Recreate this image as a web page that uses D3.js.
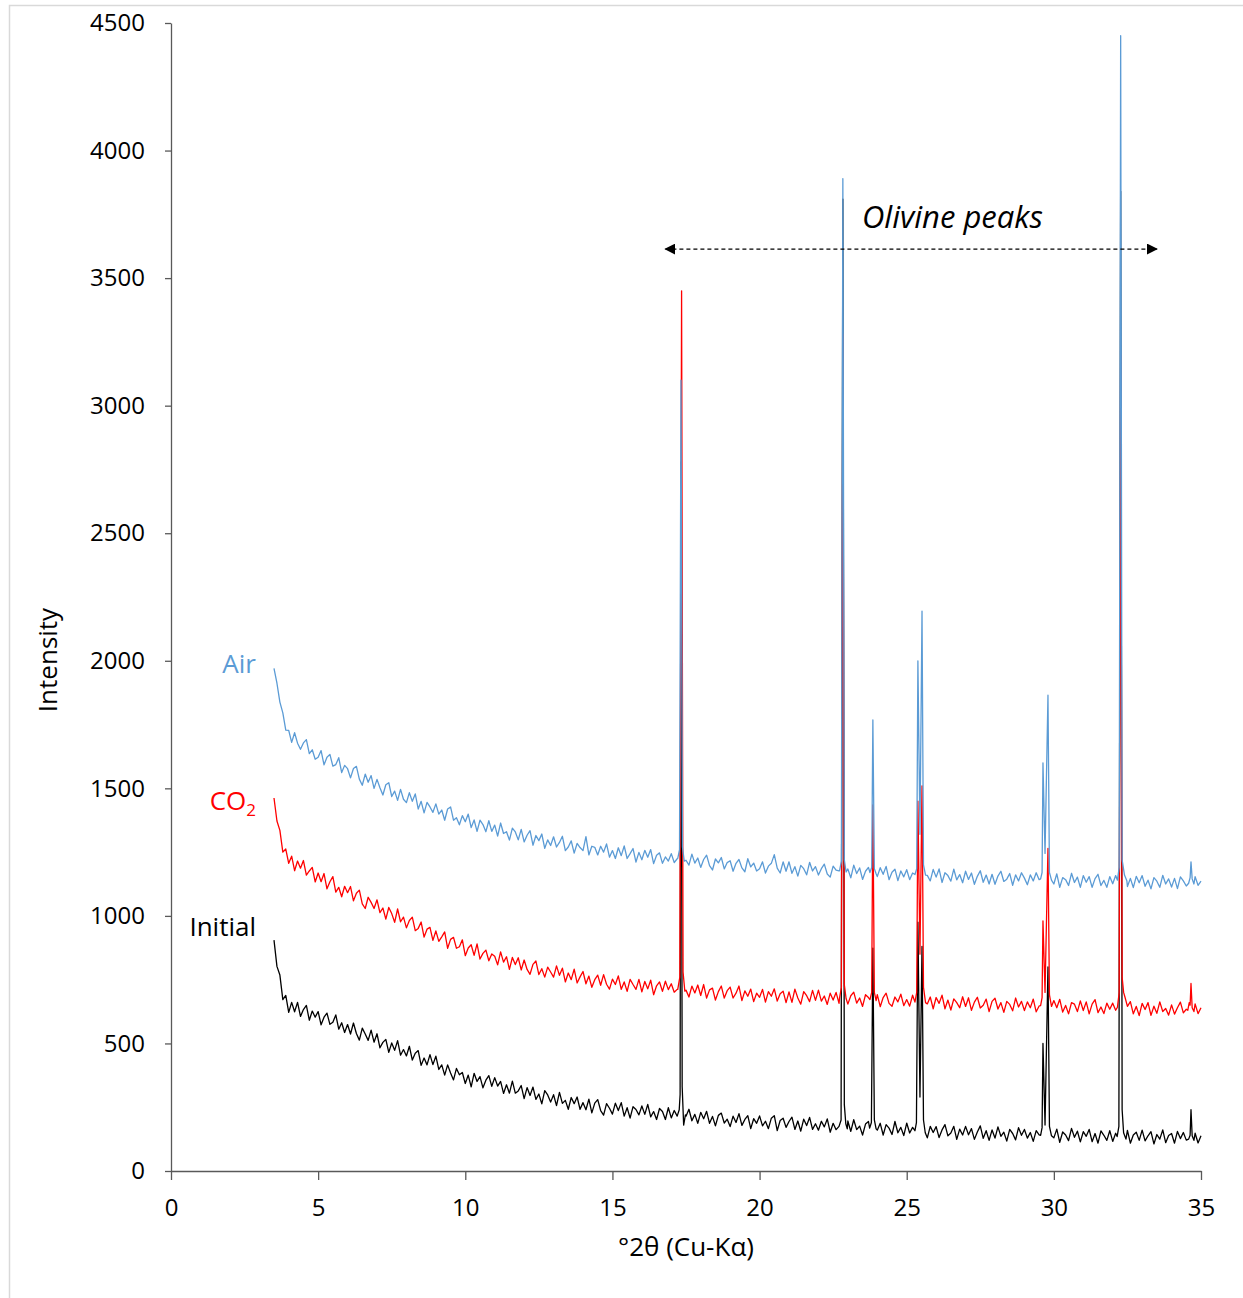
<!DOCTYPE html>
<html>
<head>
<meta charset="utf-8">
<script src="https://cdn.jsdelivr.net/npm/d3@7"></script>
<style>
	body { margin: 0; background: #fff; }
	svg text { font-family: "Open Sans", "Liberation Sans", sans-serif; }
	.axis path, .axis line { stroke: #595959; stroke-width: 1.3; }
	.axis text { font-size: 24px; fill: #000; }
</style>
</head>
<body>
<div id="chart"></div>
<script>
// baseline counts sampled every 0.1 deg from 3.5 to 35.0
var startAngle = 3.5, angleStep = 0.1;

var airBase = [
	1970, 1912, 1838, 1796, 1728,
	1727, 1680, 1718, 1677, 1653, 1678, 1691, 1636, 1651, 1614,
	1622, 1648, 1592, 1622, 1633, 1587, 1593, 1620, 1562, 1590,
	1577, 1541, 1578, 1586, 1536, 1512, 1556, 1524, 1550, 1500,
	1535, 1502, 1474, 1514, 1522, 1468, 1489, 1453, 1496, 1457,
	1444, 1483, 1449, 1478, 1419, 1449, 1404, 1445, 1427, 1406,
	1439, 1399, 1415, 1375, 1419, 1427, 1375, 1385, 1357, 1393,
	1369, 1399, 1346, 1376, 1331, 1375, 1358, 1330, 1373, 1331,
	1356, 1313, 1364, 1323, 1330, 1297, 1344, 1329, 1298, 1339,
	1290, 1316, 1334, 1277, 1315, 1295, 1321, 1265, 1298, 1276,
	1310, 1270, 1288, 1312, 1256, 1270, 1294, 1246, 1284, 1268,
	1256, 1311, 1239, 1273, 1269, 1239, 1273, 1250, 1282, 1230,
	1256, 1225, 1267, 1236, 1274, 1225, 1244, 1264, 1211, 1249,
	1220, 1257, 1230, 1260, 1205, 1238, 1247, 1206, 1231, 1215,
	1244, 1209, 1224, 1221, 1220, 1218, 1199, 1242, 1207, 1227,
	1190, 1221, 1238, 1197, 1180, 1223, 1208, 1229, 1184, 1209,
	1216, 1175, 1206, 1221, 1188, 1173, 1224, 1192, 1207, 1176,
	1185, 1212, 1168, 1195, 1206, 1240, 1187, 1168, 1212, 1175,
	1212, 1167, 1193, 1156, 1198, 1185, 1161, 1210, 1176, 1193,
	1160, 1185, 1203, 1164, 1152, 1195, 1179, 1176, 1176, 1175,
	1184, 1149, 1199, 1166, 1188, 1143, 1175, 1190, 1170, 1169,
	1154, 1189, 1163, 1194, 1142, 1171, 1183, 1138, 1176, 1153,
	1181, 1142, 1168, 1161, 1161, 1160, 1160, 1159, 1137, 1182,
	1152, 1184, 1131, 1169, 1158, 1136, 1183, 1141, 1162, 1130,
	1175, 1143, 1168, 1124, 1155, 1177, 1132, 1160, 1125, 1163,
	1124, 1156, 1175, 1135, 1144, 1166, 1120, 1161, 1137, 1169,
	1148, 1122, 1161, 1137, 1169, 1142, 1142, 1142, 1141, 1141,
	1125, 1165, 1112, 1150, 1142, 1119, 1167, 1131, 1152, 1112,
	1158, 1132, 1154, 1112, 1146, 1163, 1119, 1139, 1112, 1154,
	1126, 1158, 1136, 1136, 1135, 1115, 1147, 1111, 1155, 1130,
	1158, 1116, 1140, 1106, 1150, 1136, 1112, 1159, 1125, 1145,
	1113, 1147, 1107, 1153, 1137, 1117, 1133, 1133, 1154, 1120,
	1136
];

var co2Base = [
	1462, 1372, 1335, 1250, 1262,
	1206, 1234, 1177, 1215, 1187, 1217, 1160, 1176, 1190, 1133,
	1168, 1134, 1166, 1106, 1134, 1154, 1093, 1112, 1075, 1116,
	1091, 1115, 1059, 1089, 1101, 1047, 1029, 1073, 1053, 1029,
	1063, 1013, 1031, 987, 1033, 1009, 975, 1027, 977, 995,
	953, 982, 995, 942, 951, 976, 917, 948, 955, 904,
	941, 900, 918, 937, 873, 908, 916, 873, 879, 906,
	844, 874, 887, 845, 890, 831, 853, 866, 824, 851,
	842, 808, 859, 819, 840, 790, 837, 809, 836, 788,
	827, 790, 771, 810, 823, 770, 793, 760, 799, 780,
	760, 804, 767, 795, 741, 776, 750, 791, 737, 761,
	782, 734, 764, 720, 750, 768, 728, 770, 732, 713,
	752, 731, 765, 712, 741, 704, 751, 731, 712, 751,
	702, 743, 714, 748, 691, 726, 741, 704, 744, 711,
	734, 701, 712, 711, 710, 709, 682, 725, 698, 729,
	688, 731, 678, 710, 717, 670, 703, 725, 678, 707,
	721, 678, 697, 725, 668, 706, 685, 713, 664, 697,
	681, 712, 662, 703, 685, 714, 666, 695, 705, 660,
	702, 661, 713, 678, 654, 703, 687, 664, 708, 669,
	709, 666, 686, 653, 697, 670, 700, 657, 677, 676,
	654, 687, 701, 658, 678, 645, 691, 680, 672, 671,
	691, 644, 680, 697, 657, 646, 682, 663, 693, 648,
	672, 646, 689, 665, 664, 664, 663, 655, 682, 636,
	680, 657, 689, 636, 670, 631, 675, 660, 640, 683,
	645, 679, 630, 662, 681, 639, 650, 674, 625, 665,
	677, 635, 660, 622, 665, 653, 628, 678, 643, 665,
	629, 663, 640, 674, 624, 647, 647, 647, 646, 646,
	668, 640, 673, 623, 649, 616, 660, 654, 625, 667,
	629, 663, 616, 654, 672, 621, 643, 617, 658, 634,
	658, 630, 639, 639, 639, 638, 664, 616, 645, 609,
	657, 633, 660, 610, 646, 618, 663, 625, 637, 611,
	651, 615, 640, 662, 620, 634, 634, 633, 655, 617,
	640
];

var initialBase = [
	905, 802, 768, 672, 688,
	622, 661, 624, 661, 606, 633, 649, 591, 627, 603,
	625, 573, 603, 619, 575, 583, 612, 556, 581, 543,
	574, 537, 580, 539, 513, 560, 537, 512, 552, 505,
	538, 483, 504, 516, 465, 502, 473, 511, 454, 476,
	451, 489, 435, 462, 472, 414, 443, 416, 456, 417,
	450, 398, 416, 376, 416, 384, 357, 402, 377, 386,
	343, 376, 330, 383, 351, 370, 326, 356, 374, 332,
	366, 333, 351, 304, 338, 305, 352, 305, 314, 335,
	284, 327, 296, 329, 281, 302, 263, 315, 298, 270,
	299, 256, 308, 265, 277, 242, 288, 264, 290, 242,
	268, 240, 282, 228, 266, 280, 237, 219, 264, 246,
	223, 266, 237, 268, 215, 248, 207, 252, 241, 220,
	255, 222, 261, 212, 233, 202, 245, 233, 202, 248,
	208, 237, 218, 217, 216, 215, 242, 197, 222, 187,
	230, 205, 234, 187, 214, 177, 218, 227, 188, 203,
	174, 215, 190, 225, 179, 202, 217, 166, 205, 187,
	216, 177, 195, 166, 207, 217, 158, 198, 207, 171,
	194, 211, 163, 196, 156, 203, 178, 210, 163, 185,
	160, 195, 173, 204, 152, 187, 162, 176, 175, 175,
	196, 155, 201, 162, 176, 141, 184, 194, 169, 169,
	160, 187, 141, 182, 168, 143, 194, 150, 171, 139,
	188, 149, 171, 160, 160, 159, 158, 130, 175, 151,
	174, 131, 161, 182, 138, 149, 175, 124, 164, 141,
	175, 142, 166, 124, 153, 177, 128, 158, 120, 161,
	129, 173, 136, 152, 117, 163, 147, 122, 170, 140,
	163, 129, 151, 116, 158, 142, 141, 141, 141, 140,
	130, 164, 112, 153, 141, 119, 167, 132, 156, 114,
	154, 136, 163, 115, 147, 109, 157, 140, 120, 158,
	116, 148, 136, 135, 135, 159, 109, 141, 152, 120,
	160, 118, 138, 154, 106, 143, 125, 161, 111, 139,
	147, 109, 155, 127, 151, 121, 132, 132, 148, 110,
	138
];

// reflections: [2theta, counts]
var airPeaks = [
	[[17.22, 1225], [17.28, 1260], [17.33, 3100], [17.38, 1270], [17.44, 1215]],
	[[22.72, 1178], [22.78, 1215], [22.83, 3890], [22.88, 1220], [22.94, 1172]],
	[[23.75, 1170], [23.81, 1190], [23.85, 1768], [23.90, 1185], [23.96, 1165]],
	[[25.28, 1162], [25.34, 1185], [25.38, 2000], [25.45, 1320], [25.52, 2195], [25.57, 1200], [25.64, 1160]],
	[[29.55, 1145], [29.60, 1170], [29.63, 1600], [29.70, 1245], [29.80, 1865], [29.85, 1170], [29.92, 1140]],
	[[32.16, 1140], [32.22, 1190], [32.27, 4450], [32.32, 1220], [32.40, 1160], [32.48, 1138]],
	[[34.58, 1128], [34.63, 1150], [34.66, 1212], [34.70, 1145], [34.76, 1125]]
];

var co2Peaks = [
	[[17.22, 712], [17.29, 760], [17.35, 3450], [17.40, 780], [17.46, 705]],
	[[22.72, 680], [22.78, 720], [22.83, 3280], [22.88, 730], [22.94, 676]],
	[[23.75, 672], [23.81, 700], [23.85, 1435], [23.90, 700], [23.96, 668]],
	[[25.28, 662], [25.34, 700], [25.38, 1450], [25.45, 850], [25.52, 1510], [25.57, 720], [25.64, 660]],
	[[29.55, 648], [29.60, 680], [29.63, 980], [29.70, 700], [29.80, 1265], [29.85, 690], [29.92, 645]],
	[[32.16, 642], [32.22, 700], [32.27, 3200], [32.32, 760], [32.37, 700], [32.42, 680], [32.50, 645]],
	[[34.55, 630], [34.60, 660], [34.63, 650], [34.66, 735], [34.70, 640], [34.76, 625]]
];

var initialPeaks = [
	[[17.20, 215], [17.27, 240], [17.30, 300], [17.33, 2780], [17.37, 330], [17.42, 180], [17.48, 220]],
	[[22.70, 175], [22.77, 200], [22.83, 3810], [22.88, 260], [22.93, 185], [22.98, 165]],
	[[23.74, 168], [23.80, 190], [23.85, 874], [23.90, 200], [23.96, 165]],
	[[25.28, 158], [25.33, 190], [25.38, 975], [25.45, 290], [25.52, 880], [25.57, 200], [25.63, 150]],
	[[29.55, 140], [29.60, 170], [29.63, 500], [29.70, 180], [29.80, 800], [29.85, 175], [29.92, 138]],
	[[32.15, 135], [32.21, 175], [32.27, 3840], [32.32, 240], [32.37, 150], [32.45, 125]],
	[[34.58, 125], [34.63, 140], [34.66, 240], [34.70, 138], [34.76, 120]]
];

var seriesNames = ['Initial', 'CO2', 'Air'];
var seriesColors = ['#000000', '#ff0000', '#5b9bd5'];
var labelBaselines = [936, 810, 673];

var xTicks = [0, 5, 10, 15, 20, 25, 30, 35];
var yTicks = [0, 500, 1000, 1500, 2000, 2500, 3000, 3500, 4000, 4500];

var olivineSpan = [16.8, 33.5];

createChart();

function buildSeries(base, peaks) {
	var pts = base.map(function(v, i) { return [+(startAngle + i * angleStep).toFixed(2), v]; });

	// keep baseline samples that fall outside every peak window
	pts = pts.filter(function(p) {
		return !peaks.some(function(g) { return p[0] >= g[0][0] && p[0] <= g[g.length - 1][0]; });
	});

	peaks.forEach(function(g) { pts = pts.concat(g); });
	return pts.sort(function(a, b) { return a[0] - b[0]; });
}

function createChart() {
	var width = 1243, height = 1298,
		margin = {top: 23, right: 42, bottom: 127, left: 171},
		plotW = width - margin.left - margin.right,
		plotH = height - margin.top - margin.bottom;

	var svg = d3.select('#chart').append('svg')
		.attr('width', width)
		.attr('height', height);

	svg.append('rect')
		.attr('x', 9.5)
		.attr('y', 5.5)
		.attr('width', width + 20)
		.attr('height', height + 20)
		.attr('fill', 'none')
		.attr('stroke', '#d9d9d9')
		.attr('stroke-width', 1.5);

	var g = svg.append('g')
		.attr('transform', 'translate(' + margin.left + ',' + margin.top + ')');

	var x = d3.scaleLinear().domain([0, 35]).range([0, plotW]);
	var y = d3.scaleLinear().domain([0, 4500]).range([plotH, 0]);

	g.append('g')
		.attr('class', 'axis')
		.call(d3.axisLeft(y).tickValues(yTicks).tickSize(6).tickPadding(20).tickSizeOuter(0).tickFormat(d3.format('d')));

	g.append('g')
		.attr('class', 'axis')
		.attr('transform', 'translate(0,' + plotH + ')')
		.call(d3.axisBottom(x).tickValues(xTicks).tickSize(9).tickPadding(19).tickSizeOuter(0).tickFormat(d3.format('d')));

	var line = d3.line()
		.x(function(d) { return x(d[0]); })
		.y(function(d) { return y(d[1]); });

	var data = [
		buildSeries(initialBase, initialPeaks),
		buildSeries(co2Base, co2Peaks),
		buildSeries(airBase, airPeaks)
	];

	g.append('g')
		.attr('class', 'series')
		.selectAll('path')
		.data(data)
		.enter()
		.append('path')
		.attr('d', line)
		.attr('fill', 'none')
		.attr('stroke', function(d, i) { return seriesColors[i]; })
		.attr('stroke-width', 1.3)
		.attr('stroke-linejoin', 'round');

	// series labels, right aligned just left of the curves
	var labelX = margin.left + x(startAngle) - 18;

	seriesNames.forEach(function(name, i) {
		var t = svg.append('text')
			.attr('x', labelX)
			.attr('y', labelBaselines[i])
			.attr('text-anchor', 'end')
			.attr('font-size', 26)
			.attr('fill', seriesColors[i]);

		if (name === 'CO2') {
			t.append('tspan').text('CO');
			t.append('tspan').attr('font-size', 17).attr('dy', 6).text('2');
		} else {
			t.text(name);
		}
	});

	// olivine annotation
	svg.append('defs').append('marker')
		.attr('id', 'arrow')
		.attr('viewBox', '0 0 10 10')
		.attr('refX', 9)
		.attr('refY', 5)
		.attr('markerWidth', 11)
		.attr('markerHeight', 11)
		.attr('markerUnits', 'userSpaceOnUse')
		.attr('orient', 'auto-start-reverse')
		.append('path')
		.attr('d', 'M0,0 L10,5 L0,10 z')
		.attr('fill', '#000');

	var arrowY = y(3614);
	g.append('line')
		.attr('x1', x(olivineSpan[0]))
		.attr('x2', x(olivineSpan[1]))
		.attr('y1', arrowY)
		.attr('y2', arrowY)
		.attr('stroke', '#000')
		.attr('stroke-width', 1.2)
		.attr('stroke-dasharray', '4,3')
		.attr('marker-start', 'url(#arrow)')
		.attr('marker-end', 'url(#arrow)');

	g.append('text')
		.attr('x', x(23.48))
		.attr('y', y(3697))
		.attr('font-size', 31)
		.attr('font-style', 'italic')
		.text('Olivine peaks');

	// axis titles
	svg.append('text')
		.attr('x', margin.left + plotW / 2)
		.attr('y', 1256)
		.attr('text-anchor', 'middle')
		.attr('font-size', 26)
		.text('°2θ (Cu-Kα)');

	svg.append('text')
		.attr('transform', 'translate(57,660) rotate(-90)')
		.attr('text-anchor', 'middle')
		.attr('font-size', 26)
		.text('Intensity');
}
</script>
</body>
</html>
